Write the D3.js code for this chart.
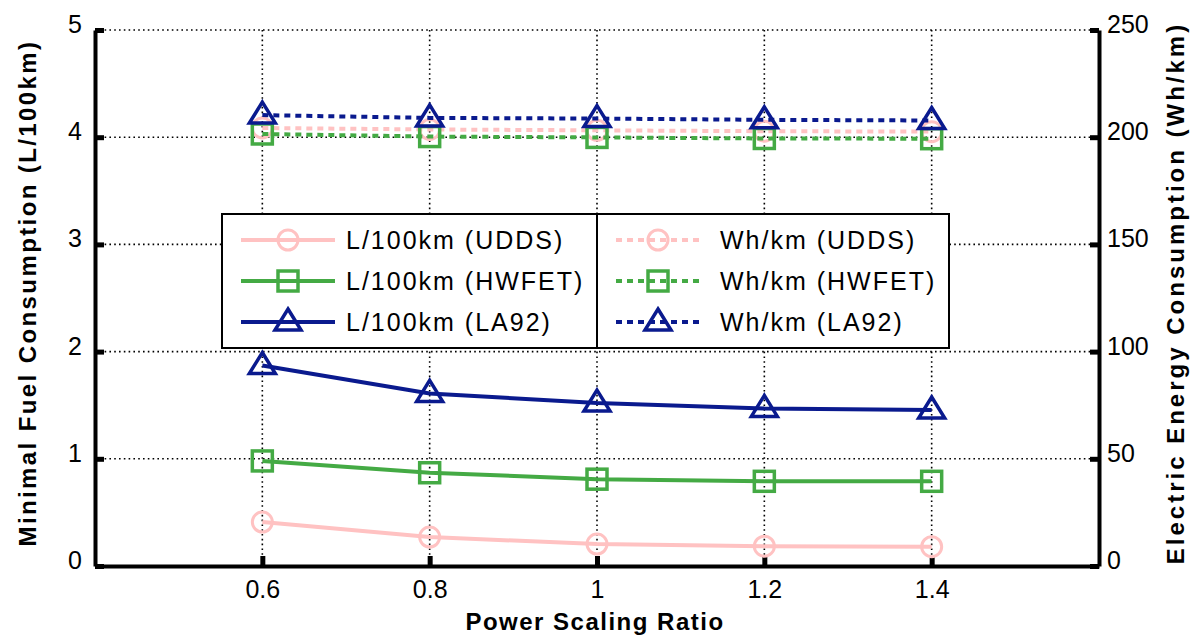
<!DOCTYPE html>
<html>
<head>
<meta charset="utf-8">
<script src="https://d3js.org/d3.v7.min.js"></script>
<style>
  body { margin: 0; background: #fff; }
  text { font-family: "Liberation Sans", Arial, sans-serif; fill: #000; }
</style>
</head>
<body>
<svg id="chart" width="1190" height="639"></svg>
<script>
// power scaling ratios
var ratios = [0.6, 0.8, 1.0, 1.2, 1.4];

// fuel consumption, L/100km (left axis)
var fuelUdds = [0.41, 0.27, 0.205, 0.185, 0.18];
var fuelHwfet = [0.98, 0.87, 0.81, 0.79, 0.79];
var fuelLa92 = [1.87, 1.61, 1.52, 1.47, 1.455];

// electric energy, Wh/km (right axis)
var energyUdds = [204.3, 203.6, 203.2, 202.8, 202.6];
var energyHwfet = [201.5, 200.3, 199.9, 199.4, 199.3];
var energyLa92 = [210.3, 209.0, 208.7, 208.1, 207.8];

var xTicks = [0.6, 0.8, 1, 1.2, 1.4];
var leftTicks = [0, 1, 2, 3, 4, 5];
var rightTicks = [0, 50, 100, 150, 200, 250];

var colors = { udds: '#ffc2c2', hwfet: '#44aa44', la92: '#0a1a8e' };

var margin = { left: 95, right: 1099, top: 30, bottom: 566 };
var svg = d3.select('#chart');

var x = d3.scaleLinear().domain([0.4, 1.6]).range([margin.left, margin.right]);
var yL = d3.scaleLinear().domain([0, 5]).range([margin.bottom, margin.top]);
var yR = d3.scaleLinear().domain([0, 250]).range([margin.bottom, margin.top]);

// grid
var grid = svg.append('g').attr('stroke', '#000').attr('stroke-width', 1.6)
  .attr('stroke-dasharray', '1.6,3.2');
grid.selectAll('.gx').data(xTicks).enter().append('line')
  .attr('x1', x).attr('x2', x).attr('y1', margin.top).attr('y2', margin.bottom);
grid.selectAll('.gy').data(leftTicks.slice(1)).enter().append('line')
  .attr('x1', margin.left).attr('x2', margin.right)
  .attr('y1', yL).attr('y2', yL);

// axes
var fmt = d3.format('');
var axisLeft = svg.append('g').attr('transform', 'translate(' + margin.left + ',0)')
  .call(d3.axisLeft(yL).tickValues(leftTicks).tickFormat(fmt).tickSizeInner(-9).tickSizeOuter(0).tickPadding(13));
var axisRight = svg.append('g').attr('transform', 'translate(' + margin.right + ',0)')
  .call(d3.axisRight(yR).tickValues(rightTicks).tickFormat(fmt).tickSizeInner(-9).tickSizeOuter(0).tickPadding(8));
var axisBottom = svg.append('g').attr('transform', 'translate(0,' + margin.bottom + ')')
  .call(d3.axisBottom(x).tickValues(xTicks).tickFormat(fmt).tickSizeInner(-10).tickSizeOuter(0).tickPadding(14));

[axisLeft, axisRight, axisBottom].forEach(function (a) {
  a.select('.domain').attr('stroke', '#000').attr('stroke-width', 4);
  a.selectAll('.tick line').attr('stroke', '#000').attr('stroke-width', 5);
  a.selectAll('.tick text').style('font-size', '25px').attr('fill', '#000');
});
// labels sit a little above their ticks, as in the original
axisLeft.selectAll('.tick text').attr('dy', '0.1em');
axisRight.selectAll('.tick text').attr('dy', '0.1em');

// markers
function drawMarker (g, shape, color, cx, cy) {
  if (shape === 'circle') {
    g.append('circle').attr('cx', cx).attr('cy', cy).attr('r', 10)
      .attr('fill', 'none').attr('stroke', color).attr('stroke-width', 3);
  } else if (shape === 'square') {
    g.append('rect').attr('x', cx - 10).attr('y', cy - 10).attr('width', 20).attr('height', 20)
      .attr('fill', 'none').attr('stroke', color).attr('stroke-width', 3.5);
  } else {
    var s = 13;
    g.append('path')
      .attr('d', 'M' + cx + ',' + (cy - s) + 'L' + (cx + s) + ',' + (cy + 8) + 'L' + (cx - s) + ',' + (cy + 8) + 'Z')
      .attr('fill', 'none').attr('stroke', color).attr('stroke-width', 3.5).attr('stroke-linejoin', 'miter');
  }
}

var series = [
  { vals: fuelUdds, y: yL, color: colors.udds, shape: 'circle', dash: null, label: 'L/100km (UDDS)' },
  { vals: fuelHwfet, y: yL, color: colors.hwfet, shape: 'square', dash: null, label: 'L/100km (HWFET)' },
  { vals: fuelLa92, y: yL, color: colors.la92, shape: 'triangle', dash: null, label: 'L/100km (LA92)' },
  { vals: energyUdds, y: yR, color: colors.udds, shape: 'circle', dash: '6,5', label: 'Wh/km (UDDS)' },
  { vals: energyHwfet, y: yR, color: colors.hwfet, shape: 'square', dash: '6,5', label: 'Wh/km (HWFET)' },
  { vals: energyLa92, y: yR, color: colors.la92, shape: 'triangle', dash: '6,5', label: 'Wh/km (LA92)' }
];

var plot = svg.append('g');
series.forEach(function (s) {
  var pts = ratios.map(function (r, i) { return [x(r), s.y(s.vals[i])]; });
  var g = plot.append('g');
  g.append('path').attr('d', d3.line()(pts))
    .attr('fill', 'none').attr('stroke', s.color).attr('stroke-width', 4)
    .attr('stroke-dasharray', s.dash);
  pts.forEach(function (p) { drawMarker(g, s.shape, s.color, p[0], p[1]); });
});

// legend
var legend = svg.append('g');
legend.append('rect').attr('x', 222).attr('y', 214).attr('width', 727).attr('height', 134)
  .attr('fill', '#fff').attr('stroke', '#000').attr('stroke-width', 2);
legend.append('line').attr('x1', 597).attr('x2', 597).attr('y1', 214).attr('y2', 348)
  .attr('stroke', '#000').attr('stroke-width', 2);
var cols = [{ x1: 241, x2: 335, tx: 346 }, { x1: 616, x2: 700, tx: 720 }];
series.forEach(function (s, i) {
  var c = cols[Math.floor(i / 3)];
  var cy = 240 + (i % 3) * 41;
  var g = legend.append('g');
  g.append('line').attr('x1', c.x1).attr('x2', c.x2).attr('y1', cy).attr('y2', cy)
    .attr('stroke', s.color).attr('stroke-width', 4).attr('stroke-dasharray', s.dash);
  drawMarker(g, s.shape, s.color, (c.x1 + c.x2) / 2, cy);
  g.append('text').attr('x', c.tx).attr('y', cy).attr('dy', '0.35em')
    .style('font-size', '25px').style('letter-spacing', '2px').text(s.label);
});

// axis titles
svg.append('text').attr('x', 595).attr('y', 630).attr('text-anchor', 'middle')
  .style('font-size', '24px').style('font-weight', 'bold').style('letter-spacing', '1.5px')
  .text('Power Scaling Ratio');
svg.append('text').attr('transform', 'translate(36,293) rotate(-90)').attr('text-anchor', 'middle')
  .style('font-size', '24px').style('font-weight', 'bold').style('letter-spacing', '2.4px')
  .text('Minimal Fuel Consumption (L/100km)');
svg.append('text').attr('transform', 'translate(1184,293) rotate(-90)').attr('text-anchor', 'middle')
  .style('font-size', '24px').style('font-weight', 'bold').style('letter-spacing', '3px')
  .text('Electric Energy Consumption (Wh/km)');
</script>
</body>
</html>
